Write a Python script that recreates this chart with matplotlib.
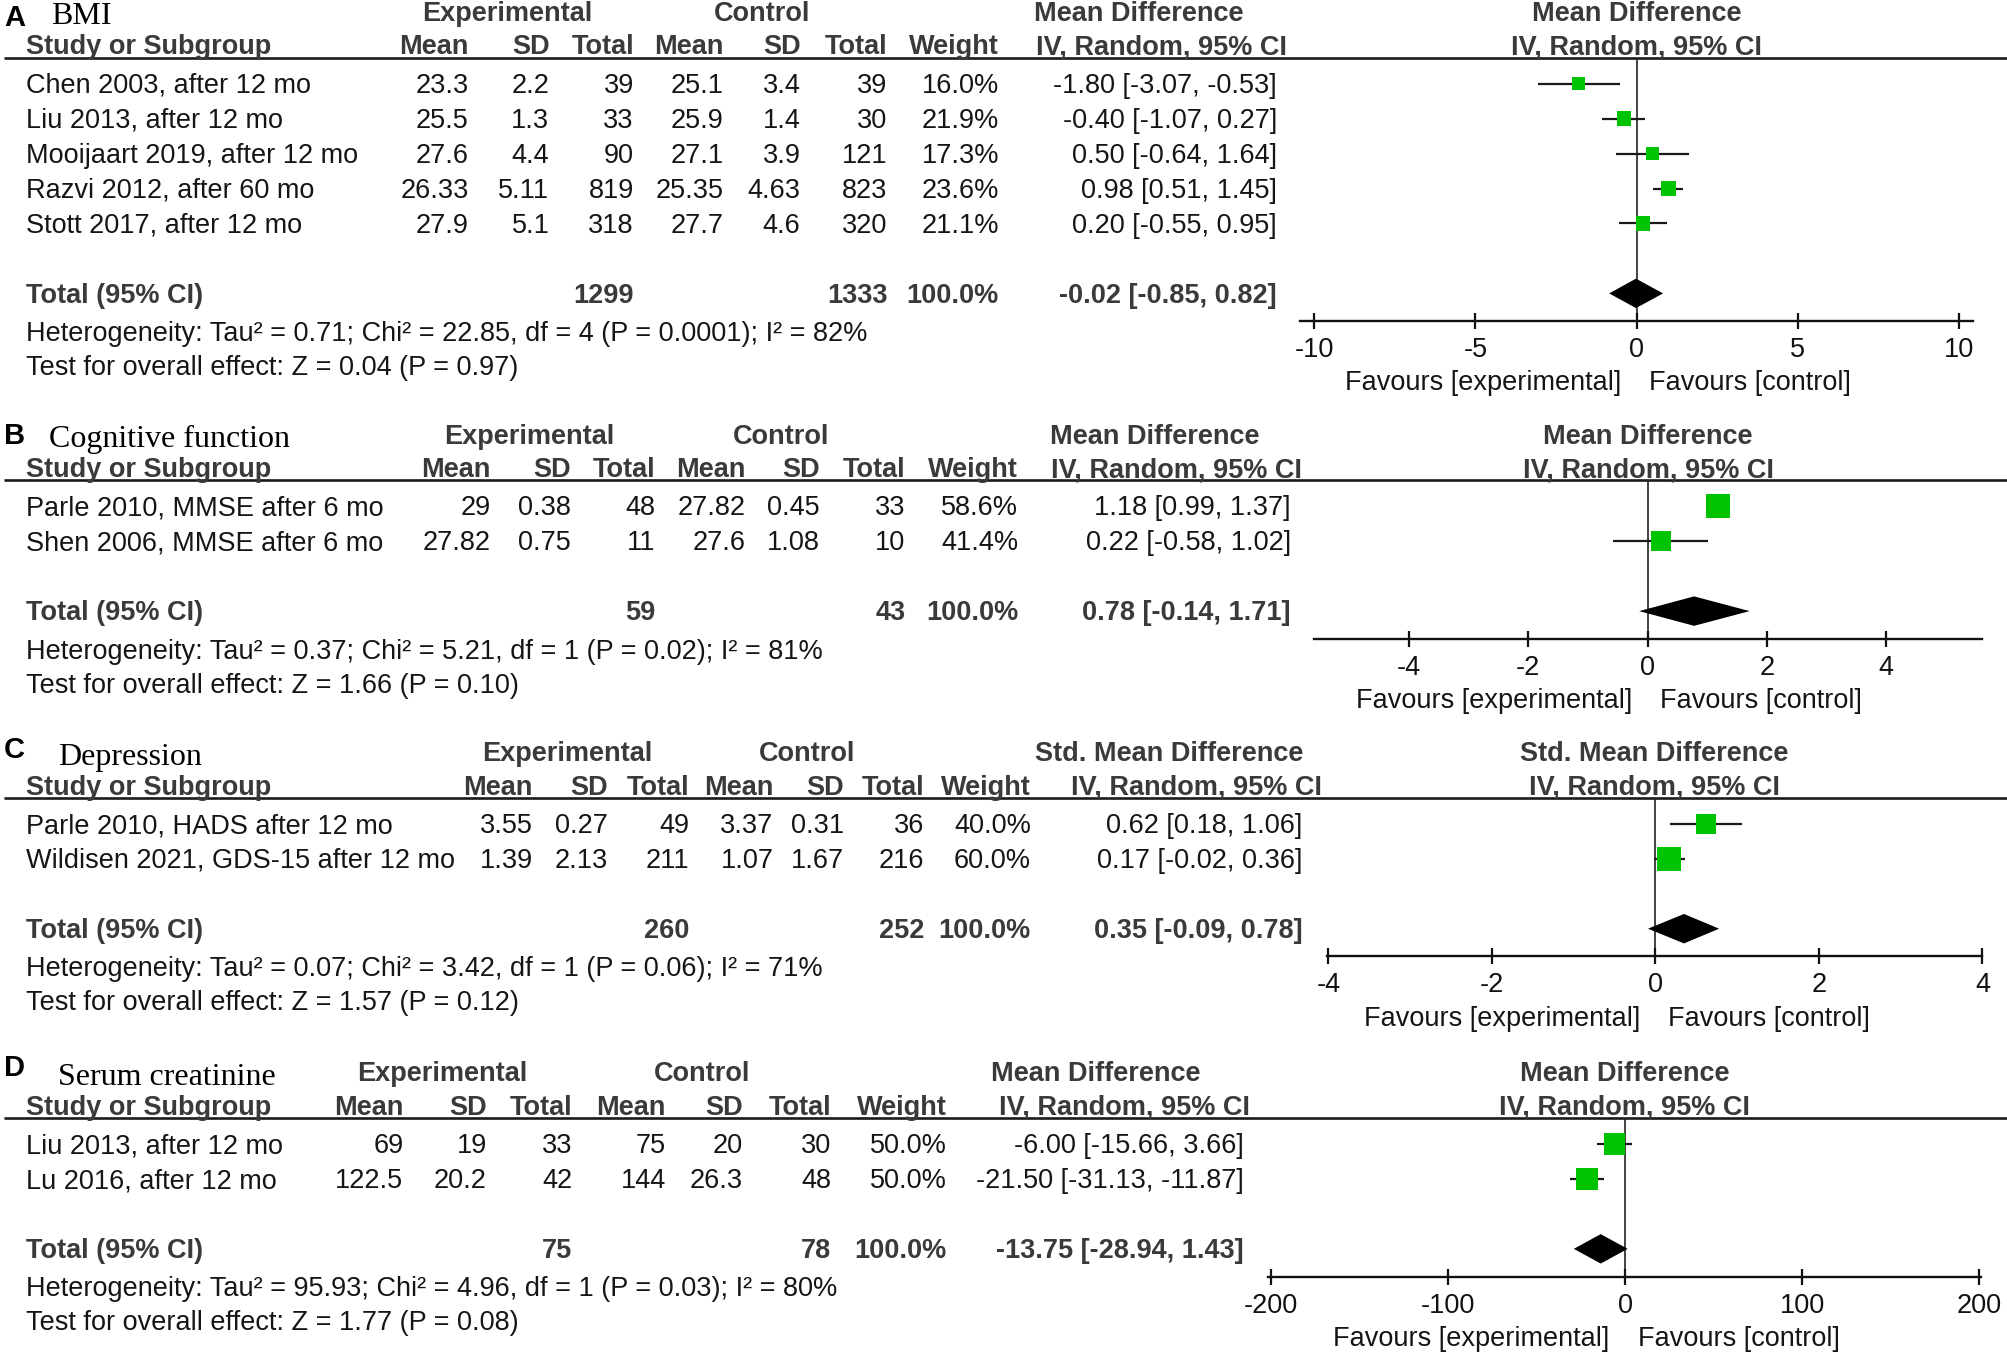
import matplotlib
matplotlib.use("Agg")
import matplotlib.pyplot as plt
from matplotlib.transforms import blended_transform_factory, offset_copy
import numpy as np

plt.rcParams['font.family'] = ['Liberation Sans', 'DejaVu Sans']
plt.rcParams['axes.unicode_minus'] = False

# ---------------- data ----------------
# Panel A: BMI
a_studies = ["Chen 2003, after 12 mo", "Liu 2013, after 12 mo", "Mooijaart 2019, after 12 mo",
             "Razvi 2012, after 60 mo", "Stott 2017, after 12 mo"]
a_exp_mean = ["23.3", "25.5", "27.6", "26.33", "27.9"]
a_exp_sd = ["2.2", "1.3", "4.4", "5.11", "5.1"]
a_exp_n = [39, 33, 90, 819, 318]
a_ctl_mean = ["25.1", "25.9", "27.1", "25.35", "27.7"]
a_ctl_sd = ["3.4", "1.4", "3.9", "4.63", "4.6"]
a_ctl_n = [39, 30, 121, 823, 320]
a_weight = [16.0, 21.9, 17.3, 23.6, 21.1]
a_est = [-1.80, -0.40, 0.50, 0.98, 0.20]
a_lo = [-3.07, -1.07, -0.64, 0.51, -0.55]
a_hi = [-0.53, 0.27, 1.64, 1.45, 0.95]
a_total = [1299, 1333, -0.02, -0.85, 0.82]
a_het = "Heterogeneity: Tau² = 0.71; Chi² = 22.85, df = 4 (P = 0.0001); I² = 82%"
a_test = "Test for overall effect: Z = 0.04 (P = 0.97)"
a_ticks = [-10, -5, 0, 5, 10]

# Panel B: Cognitive function
b_studies = ["Parle 2010, MMSE after 6 mo", "Shen 2006, MMSE after 6 mo"]
b_exp_mean = ["29", "27.82"]
b_exp_sd = ["0.38", "0.75"]
b_exp_n = [48, 11]
b_ctl_mean = ["27.82", "27.6"]
b_ctl_sd = ["0.45", "1.08"]
b_ctl_n = [33, 10]
b_weight = [58.6, 41.4]
b_est = [1.18, 0.22]
b_lo = [0.99, -0.58]
b_hi = [1.37, 1.02]
b_total = [59, 43, 0.78, -0.14, 1.71]
b_het = "Heterogeneity: Tau² = 0.37; Chi² = 5.21, df = 1 (P = 0.02); I² = 81%"
b_test = "Test for overall effect: Z = 1.66 (P = 0.10)"
b_ticks = [-4, -2, 0, 2, 4]

# Panel C: Depression
c_studies = ["Parle 2010, HADS after 12 mo", "Wildisen 2021, GDS-15 after 12 mo"]
c_exp_mean = ["3.55", "1.39"]
c_exp_sd = ["0.27", "2.13"]
c_exp_n = [49, 211]
c_ctl_mean = ["3.37", "1.07"]
c_ctl_sd = ["0.31", "1.67"]
c_ctl_n = [36, 216]
c_weight = [40.0, 60.0]
c_est = [0.62, 0.17]
c_lo = [0.18, -0.02]
c_hi = [1.06, 0.36]
c_total = [260, 252, 0.35, -0.09, 0.78]
c_het = "Heterogeneity: Tau² = 0.07; Chi² = 3.42, df = 1 (P = 0.06); I² = 71%"
c_test = "Test for overall effect: Z = 1.57 (P = 0.12)"
c_ticks = [-4, -2, 0, 2, 4]

# Panel D: Serum creatinine
d_studies = ["Liu 2013, after 12 mo", "Lu 2016, after 12 mo"]
d_exp_mean = ["69", "122.5"]
d_exp_sd = ["19", "20.2"]
d_exp_n = [33, 42]
d_ctl_mean = ["75", "144"]
d_ctl_sd = ["20", "26.3"]
d_ctl_n = [30, 48]
d_weight = [50.0, 50.0]
d_est = [-6.00, -21.50]
d_lo = [-15.66, -31.13]
d_hi = [3.66, -11.87]
d_total = [75, 78, -13.75, -28.94, 1.43]
d_het = "Heterogeneity: Tau² = 95.93; Chi² = 4.96, df = 1 (P = 0.03); I² = 80%"
d_test = "Test for overall effect: Z = 1.77 (P = 0.08)"
d_ticks = [-200, -100, 0, 100, 200]

# ---------------- layout ----------------
W, H = 2008, 1354
S = W / 1568.0
HD = H / S
ROW = 27.3
B0 = 27.5        # baseline of first study row below header line
CEN = 7.2        # baseline -> visual centre of text
FS = 19.5
HEAD_C = '#3a3a3a'
TXT_C = '#151515'
GREEN = '#00c300'

fig = plt.figure(figsize=(W / 100, H / 100), dpi=100)
bg = fig.add_axes([0, 0, 1, 1])
bg.set_xlim(0, 1568)
bg.set_ylim(HD, 0)
bg.axis('off')

panels = [
    dict(letter='A', title='BMI', L=45, effect='Mean Difference', tx=40,
         cols=[366, 429, 495, 565, 625, 693, 780, 997], grp=[396, 595, 889], ivc=907,
         fx=(1015, 1541), xlim=(-10.45, 10.45), ticks=a_ticks, letter_dy=-25,
         studies=a_studies, em=a_exp_mean, esd=a_exp_sd, en=a_exp_n, cm=a_ctl_mean,
         csd=a_ctl_sd, cn=a_ctl_n, w=a_weight, est=a_est, lo=a_lo, hi=a_hi,
         total=a_total, het=a_het, test=a_test),
    dict(letter='B', title='Cognitive function', L=375, effect='Mean Difference', tx=38,
         cols=[383, 446, 512, 582, 640, 707, 795, 1008], grp=[413, 610, 902], ivc=919,
         fx=(1026, 1548), xlim=(-5.59, 5.61), ticks=b_ticks, letter_dy=-28,
         studies=b_studies, em=b_exp_mean, esd=b_exp_sd, en=b_exp_n, cm=b_ctl_mean,
         csd=b_ctl_sd, cn=b_ctl_n, w=b_weight, est=b_est, lo=b_lo, hi=b_hi,
         total=b_total, het=b_het, test=b_test),
    dict(letter='C', title='Depression', L=623, effect='Std. Mean Difference', tx=45,
         cols=[416, 475, 538, 604, 659, 722, 805, 1017], grp=[443, 630, 913], ivc=934,
         fx=(1036, 1548), xlim=(-4.02, 4.0), ticks=c_ticks, letter_dy=-31,
         studies=c_studies, em=c_exp_mean, esd=c_exp_sd, en=c_exp_n, cm=c_ctl_mean,
         csd=c_ctl_sd, cn=c_ctl_n, w=c_weight, est=c_est, lo=c_lo, hi=c_hi,
         total=c_total, het=c_het, test=c_test),
    dict(letter='D', title='Serum creatinine', L=873, effect='Mean Difference', tx=45,
         cols=[315, 380, 447, 520, 580, 649, 739, 971], grp=[345, 548, 856], ivc=878,
         fx=(990, 1547), xlim=(-201.7, 201.0), ticks=d_ticks, letter_dy=-33,
         studies=d_studies, em=d_exp_mean, esd=d_exp_sd, en=d_exp_n, cm=d_ctl_mean,
         csd=d_ctl_sd, cn=d_ctl_n, w=d_weight, est=d_est, lo=d_lo, hi=d_hi,
         total=d_total, het=d_het, test=d_test),
]


def T(x, y, s, ha='left', bold=False, color=TXT_C, size=FS, **kw):
    bg.text(x, y, s, ha=ha, va='baseline', fontsize=size,
            fontweight='bold' if bold else 'normal', color=color, **kw)


for p in panels:
    L = p['L']
    n = len(p['studies'])
    cols = p['cols']
    base = lambda i: L + B0 + ROW * i
    # panel letter and title
    T(3, L + p['letter_dy'], p['letter'], bold=True, color='black', size=21)
    bg.text(p['tx'], L - 26, p['title'], ha='left', va='baseline', fontsize=23,
            family=['Liberation Serif', 'DejaVu Serif'], color='black')
    # group headers
    T(p['grp'][0], L - 28.5, 'Experimental', ha='center', bold=True, color=HEAD_C)
    T(p['grp'][1], L - 28.5, 'Control', ha='center', bold=True, color=HEAD_C)
    T(p['grp'][2], L - 28.5, p['effect'], ha='center', bold=True, color=HEAD_C)
    fc = (p['fx'][0] + p['fx'][1]) / 2
    T(fc, L - 28.5, p['effect'], ha='center', bold=True, color=HEAD_C)
    # column headers
    T(20, L - 2.5, 'Study or Subgroup', bold=True, color=HEAD_C)
    for x, s in zip(cols[:7], ['Mean', 'SD', 'Total', 'Mean', 'SD', 'Total', 'Weight']):
        T(x, L - 2.5, s, ha='right', bold=True, color=HEAD_C)
    T(p['ivc'], L - 2.5, 'IV, Random, 95% CI', ha='center', bold=True, color=HEAD_C)
    T(fc, L - 2.5, 'IV, Random, 95% CI', ha='center', bold=True, color=HEAD_C)
    bg.plot([3, 1568], [L, L], color='#1a1a1a', lw=1.9, solid_capstyle='butt')
    # study rows
    for i in range(n):
        y = base(i)
        T(20, y, p['studies'][i])
        vals = [p['em'][i], p['esd'][i], str(p['en'][i]), p['cm'][i], p['csd'][i],
                str(p['cn'][i]), f"{p['w'][i]:.1f}%",
                f"{p['est'][i]:.2f} [{p['lo'][i]:.2f}, {p['hi'][i]:.2f}]"]
        for x, s in zip(cols, vals):
            T(x, y, s, ha='right')
    # total row
    tn_e, tn_c, t_est, t_lo, t_hi = p['total']
    yt = base(n + 1)
    T(20, yt, 'Total (95% CI)', bold=True, color=HEAD_C)
    T(cols[2], yt, str(tn_e), ha='right', bold=True, color=HEAD_C)
    T(cols[5], yt, str(tn_c), ha='right', bold=True, color=HEAD_C)
    T(cols[6], yt, '100.0%', ha='right', bold=True, color=HEAD_C)
    T(cols[7], yt, f"{t_est:.2f} [{t_lo:.2f}, {t_hi:.2f}]", ha='right', bold=True, color=HEAD_C)
    T(20, yt + 30, p['het'])
    T(20, yt + 56.5, p['test'])

    # forest axes
    axis_y = yt + 14.5
    x0, x1 = p['fx']
    c0 = B0 - CEN
    ax = fig.add_axes([x0 / 1568, 1 - axis_y / HD, (x1 - x0) / 1568, (axis_y - L) / HD])
    ax.patch.set_alpha(0)
    ax.set_xlim(*p['xlim'])
    ax.set_ylim((axis_y - L - c0) / ROW, -c0 / ROW)
    for sp in ['top', 'left', 'right']:
        ax.spines[sp].set_visible(False)
    ax.spines['bottom'].set_linewidth(1.7)
    ax.spines['bottom'].set_color('#111111')
    ax.set_yticks([])
    ax.set_xticks(p['ticks'])
    ax.set_xticklabels([str(t) for t in p['ticks']])
    ax.tick_params(axis='x', direction='inout', length=12, width=1.6, pad=5.5,
                   labelsize=FS, colors='#111111')
    ax.axvline(0, color='#222222', lw=1.2, zorder=1)
    idx = np.arange(n)
    ax.hlines(idx, p['lo'], p['hi'], color='#1a1a1a', lw=1.6, zorder=2)
    sides = 2.4 * np.sqrt(np.array(p['w'])) * S * 0.72
    ax.scatter(p['est'], idx, marker='s', s=sides ** 2, color=GREEN, linewidths=0,
               zorder=3, clip_on=False)
    h = 11.5 / ROW
    ax.fill([t_lo, t_est, t_hi, t_est], [n + 1, n + 1 - h, n + 1, n + 1 + h],
            color='black', zorder=3, lw=0)
    # favours labels
    tr = blended_transform_factory(ax.transData, bg.transData)
    ax.text(0, axis_y + 54, 'Favours [experimental]', ha='right', va='baseline',
            fontsize=FS, color=TXT_C,
            transform=offset_copy(tr, fig=fig, x=-12 * S, y=0, units='dots'))
    ax.text(0, axis_y + 54, 'Favours [control]', ha='left', va='baseline',
            fontsize=FS, color=TXT_C,
            transform=offset_copy(tr, fig=fig, x=10 * S, y=0, units='dots'))

fig.savefig('out.png', dpi=100)
